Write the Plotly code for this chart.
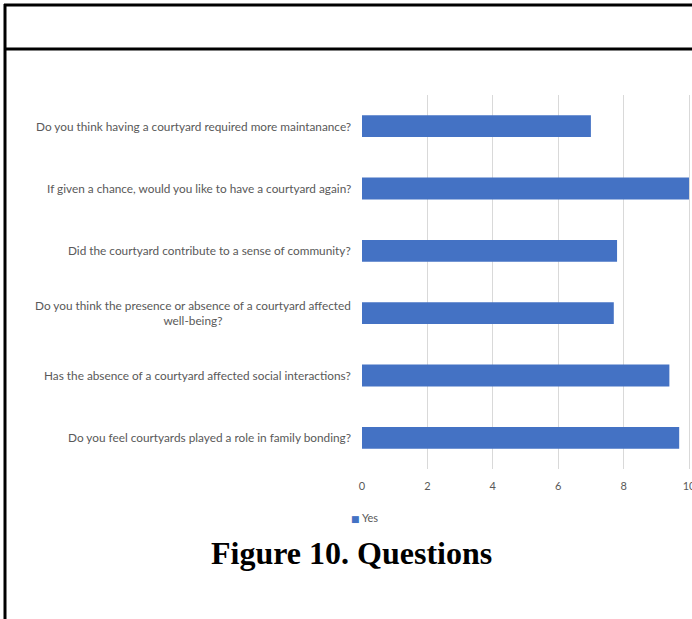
import plotly.graph_objects as go

# Data (top to bottom as shown)
questions = [
    "Do you think having a courtyard required more maintanance?",
    "If given a chance, would you like to have a courtyard again?",
    "Did the courtyard contribute to a sense of community?",
    "Do you think the presence or absence of a courtyard affected<br>well-being?",
    "Has the absence of a courtyard affected social interactions?",
    "Do you feel courtyards played a role in family bonding?",
]
yes_values = [7.0, 10.0, 7.8, 7.7, 9.4, 9.7]
x_ticks = [0, 2, 4, 6, 8, 10]
series_name = "Yes"
caption = "Figure 10. Questions"

W, H = 692, 619
BLUE = "#4472C4"
GRAY = "#595959"
LABEL_FONT = dict(family="Lato, Open Sans, sans-serif", size=11.8, color=GRAY)
TICK_FONT = dict(family="Lato, Open Sans, sans-serif", size=11, color=GRAY)

ycats = list(range(len(questions)))

fig = go.Figure()
fig.add_trace(go.Bar(
    x=yes_values, y=ycats, orientation="h", name=series_name,
    marker=dict(color=BLUE, line=dict(width=0)), width=0.35, showlegend=False,
))

annotations = []
for i, q in enumerate(questions):
    annotations.append(dict(
        x=0, xref="paper", xshift=353, y=i, yref="y", text=q, showarrow=False,
        xanchor="right", yanchor="middle", align="center", font=LABEL_FONT,
    ))
# legend
annotations.append(dict(
    x=0, xref="paper", xshift=349, y=0, yref="paper", yshift=H - 517,
    text=f"<span style='color:{BLUE};font-family:DejaVu Sans;font-size:9px'>■</span> {series_name}",
    showarrow=False, xanchor="left", yanchor="middle", font=TICK_FONT,
))
# caption
annotations.append(dict(
    x=351 / W, xref="paper", y=1 - 553 / H, yref="paper", text=f"<b>{caption}</b>",
    showarrow=False, xanchor="center", yanchor="middle",
    font=dict(family="Liberation Serif, Times New Roman, serif", size=32, color="black"),
))

px_per_unit = (689 - 362) / 10.0
x_max = (W - 362) / px_per_unit

fig.update_layout(
    width=W, height=H, margin=dict(l=0, r=0, t=0, b=0, autoexpand=False),
    paper_bgcolor="white", plot_bgcolor="white",
    xaxis=dict(
        domain=[362 / W, 1.0], range=[0, x_max], tickvals=x_ticks,
        showgrid=True, gridcolor="#D9D9D9", gridwidth=1, zeroline=False,
        showline=False, ticks="", tickfont=TICK_FONT, ticklabelstandoff=9,
        ticklabeloverflow="allow", automargin=False,
    ),
    yaxis=dict(
        domain=[1 - 469 / H, 1 - 95 / H], range=[len(questions) - 0.5, -0.5],
        showticklabels=False, showgrid=False, zeroline=False, showline=False,
        ticks="", automargin=False,
    ),
    annotations=annotations,
    shapes=[
        dict(type="line", xref="paper", yref="paper", x0=4 / W, x1=1.0,
             y0=1 - 5 / H, y1=1 - 5 / H, line=dict(color="black", width=3)),
        dict(type="line", xref="paper", yref="paper", x0=4 / W, x1=1.0,
             y0=1 - 49 / H, y1=1 - 49 / H, line=dict(color="black", width=3)),
        dict(type="line", xref="paper", yref="paper", x0=5 / W, x1=5 / W,
             y0=0, y1=1 - 4 / H, line=dict(color="black", width=3)),
    ],
    showlegend=False,
)

fig.write_html(
    "out.html",
    config={"displayModeBar": False},
    post_script="document.body.style.margin='0';document.body.style.overflow='hidden';",
)
